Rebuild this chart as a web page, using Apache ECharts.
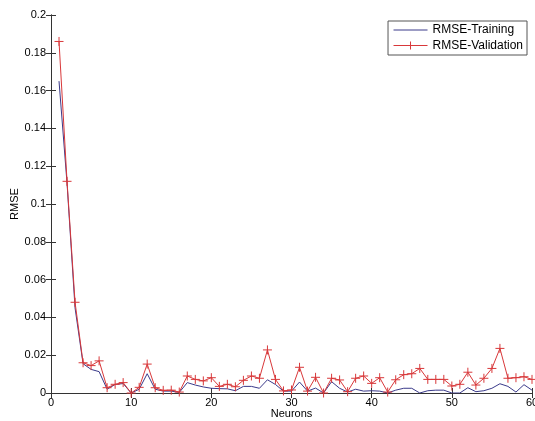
<!DOCTYPE html>
<html>
<head>
<meta charset="utf-8">
<script src="https://cdn.jsdelivr.net/npm/echarts@6/dist/echarts.min.js"></script>
<style>
html,body{margin:0;padding:0;background:#fff;}
#chart{width:535px;height:421px;}
</style>
</head>
<body>
<div id="chart"></div>
<script>
// neurons (x)
var neurons = [1,2,3,4,5,6,7,8,9,10,11,12,13,14,15,16,17,18,19,20,
  21,22,23,24,25,26,27,28,29,30,31,32,33,34,35,36,37,38,39,40,
  41,42,43,44,45,46,47,48,49,50,51,52,53,54,55,56,57,58,59,60];

// RMSE training
var rmseTraining = [0.165,0.111,0.045,0.0155,0.0125,0.0113,0.002,0.0045,0.005,0.0,
  0.002,0.0102,0.002,0.001,0.001,0.0003,0.0055,0.0042,0.0032,0.0025,
  0.0023,0.0022,0.0012,0.0035,0.0035,0.0025,0.007,0.0045,0.001,0.001,
  0.0058,0.001,0.0026,0.0,0.006,0.0025,0.0005,0.002,0.001,0.0012,
  0.001,0.0,0.0015,0.0025,0.0025,0.0,0.0012,0.0015,0.0015,0.0,
  0.0,0.0028,0.0007,0.0012,0.0025,0.0049,0.0035,0.0005,0.0044,0.0015];

// RMSE validation
var rmseValidation = [0.186,0.112,0.048,0.016,0.0145,0.017,0.0028,0.0046,0.0055,0.0,
  0.003,0.0153,0.0028,0.0014,0.0015,0.0005,0.009,0.0072,0.0064,0.0081,
  0.0035,0.0046,0.0033,0.0067,0.009,0.0078,0.0228,0.0072,0.0011,0.0016,
  0.0136,0.001,0.0083,0.0,0.0078,0.0069,0.0007,0.0078,0.009,0.0051,
  0.0081,0.0005,0.007,0.0097,0.0102,0.013,0.0072,0.0072,0.0072,0.0037,
  0.0046,0.011,0.0042,0.0078,0.013,0.0236,0.0078,0.0081,0.0086,0.0072];

var xTicks = [0,10,20,30,40,50,60];

function pairs(xs, ys){
  var out = [];
  for(var i = 0;i<xs.length;i++){
    out.push([xs[i], ys[i]]);
  }
  return out;
}

var plus = 'path://M0,5L10,5M5,0L5,10';
var font = 'Liberation Sans';
var blue = '#3a3a8a', red = '#d8383a';

var chart = echarts.init(document.getElementById('chart'));
var option = {
  animation: false,
  textStyle: {fontFamily: font},
  grid: {left: 51, right: 3, top: 15, bottom: 28, show: false, outerBoundsMode: 'none', containLabel: false},
  legend: {
    orient: 'vertical',
    right: 8,
    top: 21,
    padding: [3, 4, 3, 5],
    itemGap: 3,
    itemWidth: 34,
    itemHeight: 10,
    backgroundColor: '#fff',
    borderColor: '#555',
    borderWidth: 1,
    borderRadius: 0,
    textStyle: {fontFamily: font, fontSize: 12, color: '#000'},
    data: [
      {name: 'RMSE-Training', itemStyle: {opacity: 0}, lineStyle: {color: blue, width: 1}},
      {name: 'RMSE-Validation', itemStyle: {color: 'none', borderColor: red, borderWidth: 1},
        lineStyle: {color: red, width: 1}}
    ]
  },
  xAxis: [{
    type: 'value',
    min: 0, max: 60, interval: 10,
    name: 'Neurons',
    nameLocation: 'middle',
    nameGap: 15,
    nameMoveOverlap: false,
    nameTextStyle: {fontFamily: font, fontSize: 11, color: '#000'},
    axisLine: {lineStyle: {color: '#333', width: 1}},
    axisTick: {inside: true, length: 5, lineStyle: {color: '#333'}},
    axisLabel: {fontFamily: font, fontSize: 11, color: '#000', margin: 4,
      formatter: function(v){ return xTicks.indexOf(v) >= 0 ? String(v) : ''; }},
    splitLine: {show: false}
  }, {
    type: 'value', position: 'top',
    min: 0, max: 60, interval: 10,
    axisLine: {show: true, lineStyle: {color: '#333', width: 1}},
    axisTick: {inside: true, length: 5, lineStyle: {color: '#333'}},
    axisLabel: {show: false},
    splitLine: {show: false}
  }],
  yAxis: [{
    type: 'value',
    min: 0, max: 0.2, interval: 0.02,
    name: 'RMSE',
    nameLocation: 'middle',
    nameGap: 31,
    nameMoveOverlap: false,
    nameTextStyle: {fontFamily: font, fontSize: 11, color: '#000'},
    axisLine: {show: true, lineStyle: {color: '#333', width: 1}},
    axisTick: {show: true, inside: true, length: 5, lineStyle: {color: '#333'}},
    axisLabel: {fontFamily: font, fontSize: 11, color: '#000', margin: 5},
    splitLine: {show: false}
  }, {
    type: 'value', position: 'right',
    min: 0, max: 0.2, interval: 0.02,
    axisLine: {show: true, lineStyle: {color: '#333', width: 1}},
    axisTick: {show: true, inside: true, length: 5, lineStyle: {color: '#333'}},
    axisLabel: {show: false},
    splitLine: {show: false}
  }],
  series: [{
    name: 'RMSE-Training',
    type: 'line',
    showSymbol: false,
    symbol: 'none',
    lineStyle: {color: blue, width: 1},
    itemStyle: {color: blue},
    data: pairs(neurons, rmseTraining)
  }, {
    name: 'RMSE-Validation',
    type: 'line',
    symbol: plus,
    symbolSize: 9,
    lineStyle: {color: red, width: 1},
    itemStyle: {color: 'none', borderColor: red, borderWidth: 1},
    data: pairs(neurons, rmseValidation)
  }]
};
chart.setOption(option);
</script>
</body>
</html>
